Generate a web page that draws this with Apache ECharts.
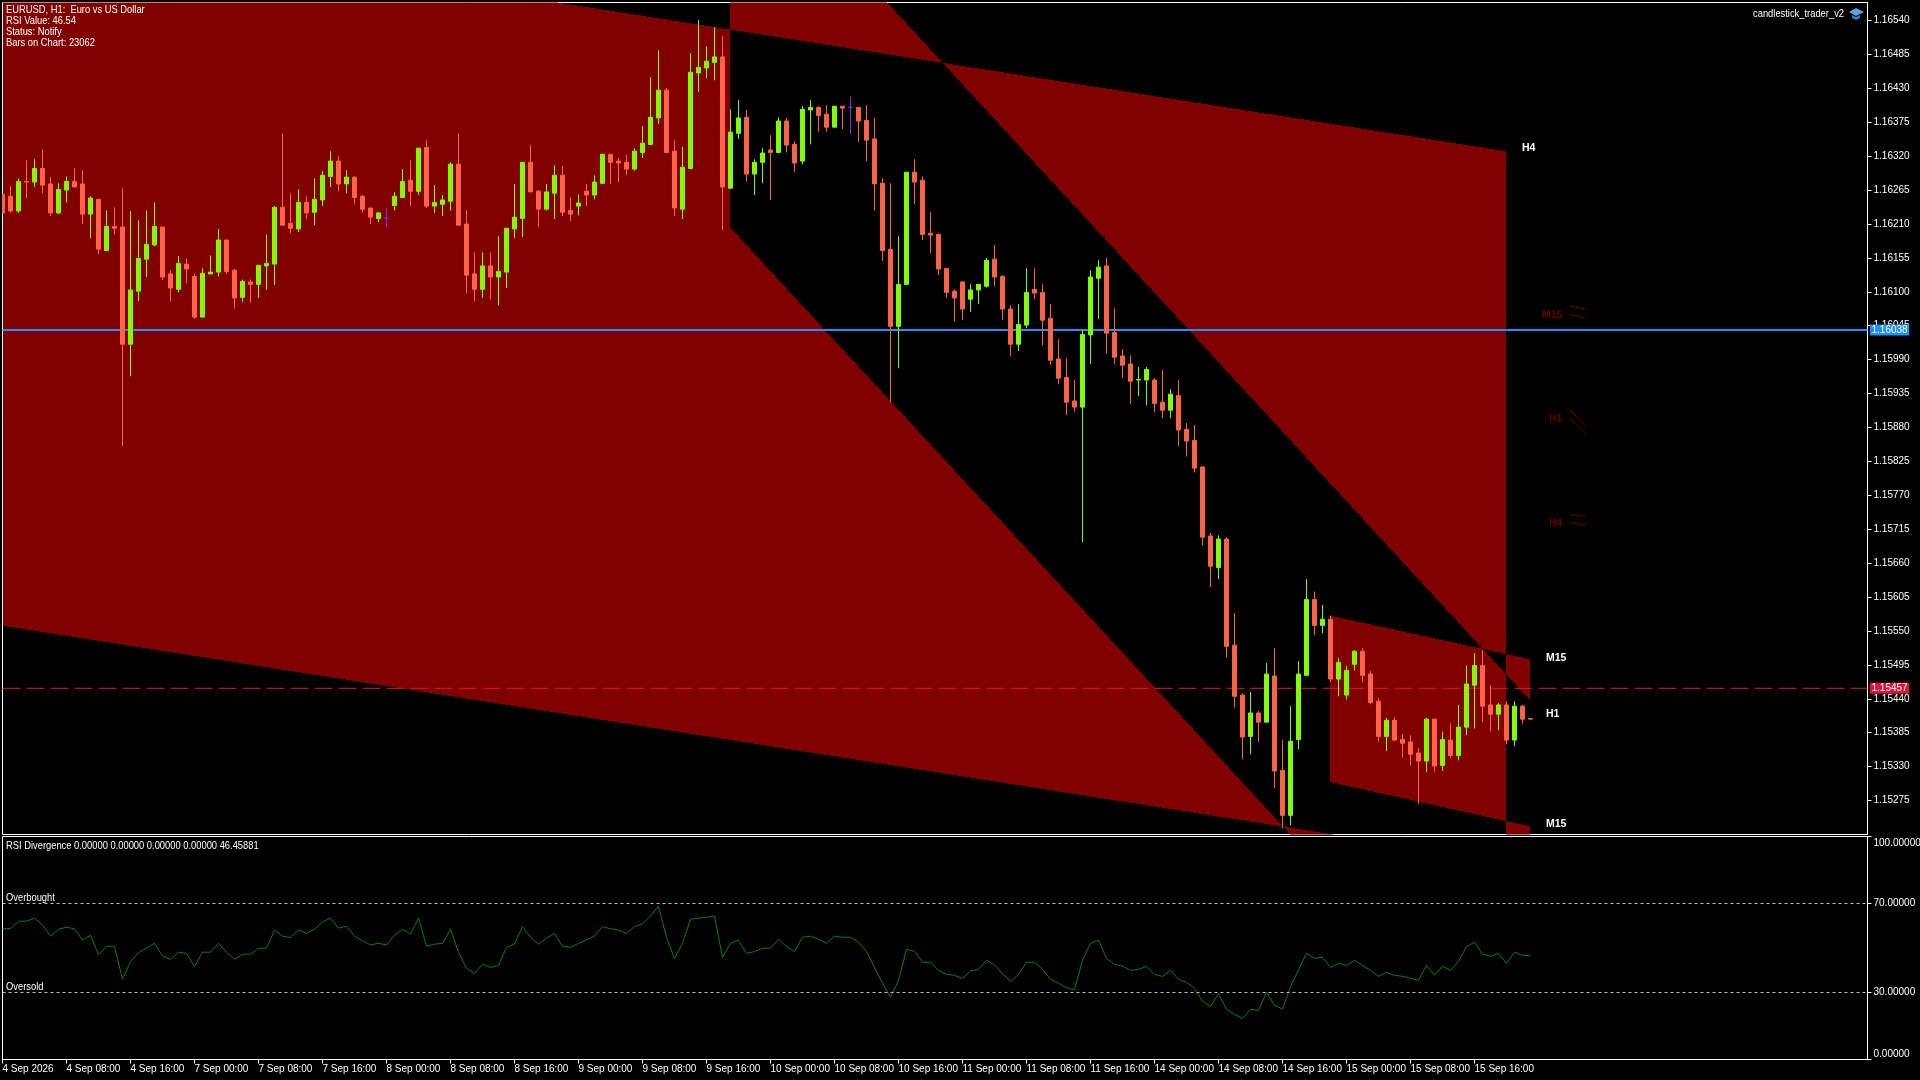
<!DOCTYPE html>
<html>
<head>
<meta charset="utf-8">
<title>EURUSD H1</title>
<script src="https://cdn.jsdelivr.net/npm/echarts@6/dist/echarts.min.js"></script>
<style>
html, body { margin: 0; padding: 0; background: #000; }
#chart { width: 1920px; height: 1080px; }
</style>
</head>
<body>
<div id="chart"></div>
<script>
var opens = [
1.16258,1.16255,1.16231,1.16279,1.16278,1.16300,1.16275,1.16228,1.16265,1.16279,
1.16275,1.16226,1.16250,1.16167,1.16206,1.16205,1.16015,1.16101,1.16153,1.16176,
1.16205,1.16129,1.16104,1.16145,1.16125,1.16059,1.16129,1.16132,1.16184,1.16135,
1.16091,1.16116,1.16112,1.16142,1.16145,1.16237,1.16211,1.16202,1.16245,1.16229,
1.16249,1.16287,1.16312,1.16275,1.16286,1.16255,1.16236,1.16219,1.16220,1.16240,
1.16253,1.16281,1.16263,1.16334,1.16239,1.16242,1.16247,1.16307,1.16210,1.16129,
1.16104,1.16142,1.16124,1.16132,1.16202,1.16219,1.16310,1.16263,1.16234,1.16260,
1.16289,1.16232,1.16239,1.16263,1.16257,1.16276,1.16323,1.16312,1.16310,1.16299,
1.16326,1.16339,1.16382,1.16427,1.16328,1.16234,1.16300,1.16455,1.16463,1.16472,
1.16481,1.16268,1.16357,1.16383,1.16291,1.16310,1.16330,1.16326,1.16377,1.16339,
1.16312,1.16395,1.16399,1.16388,1.16367,1.16401,1.16399,1.16399,1.16378,1.16348,
1.16276,1.16169,1.16044,1.16112,1.16294,1.16281,1.16195,1.16193,1.16138,1.16101,
1.16116,1.16088,1.16103,1.16109,1.16153,1.16125,1.16072,1.16015,1.16046,1.16104,
1.16099,1.16057,1.15991,1.15961,1.15923,1.15913,1.16030,1.16122,1.16142,1.16034,
1.15996,1.15983,1.15957,1.15957,1.15957,1.15921,1.15908,1.15932,1.15877,1.15859,
1.15816,1.15704,1.15653,1.15699,1.15527,1.15446,1.15379,1.15417,1.15402,1.15477,
1.15324,1.15251,1.15374,1.15478,1.15601,1.15559,1.15569,1.15472,1.15446,1.15496,
1.15517,1.15480,1.15436,1.15379,1.15405,1.15374,1.15370,1.15352,1.15339,1.15407,
1.15332,1.15373,1.15348,1.15394,1.15462,1.15494,1.15430,1.15415,1.15430,1.15373,
1.15428,1.15408
];
var closes = [
1.16228,1.16231,1.16279,1.16278,1.16300,1.16273,1.16228,1.16266,1.16279,1.16270,
1.16226,1.16252,1.16169,1.16206,1.16203,1.16015,1.16103,1.16154,1.16177,1.16206,
1.16124,1.16106,1.16146,1.16137,1.16059,1.16130,1.16132,1.16184,1.16133,1.16090,
1.16117,1.16112,1.16143,1.16146,1.16237,1.16208,1.16203,1.16245,1.16228,1.16250,
1.16289,1.16312,1.16275,1.16286,1.16253,1.16234,1.16221,1.16228,1.16220,1.16255,
1.16279,1.16263,1.16333,1.16239,1.16245,1.16249,1.16307,1.16208,1.16127,1.16104,
1.16142,1.16124,1.16133,1.16203,1.16221,1.16310,1.16262,1.16234,1.16262,1.16289,
1.16229,1.16226,1.16244,1.16257,1.16278,1.16323,1.16310,1.16309,1.16299,1.16328,
1.16341,1.16383,1.16427,1.16326,1.16236,1.16302,1.16456,1.16464,1.16474,1.16481,
1.16270,1.16359,1.16382,1.16291,1.16310,1.16325,1.16326,1.16377,1.16338,1.16309,
1.16396,1.16399,1.16386,1.16367,1.16401,1.16398,1.16399,1.16377,1.16346,1.16275,
1.16167,1.16044,1.16112,1.16294,1.16278,1.16193,1.16192,1.16137,1.16099,1.16090,
1.16072,1.16103,1.16112,1.16151,1.16124,1.16072,1.16015,1.16047,1.16099,1.16098,
1.16054,1.15989,1.15960,1.15921,1.15913,1.16031,1.16124,1.16140,1.16033,1.15994,
1.15981,1.15955,1.15958,1.15974,1.15919,1.15908,1.15934,1.15876,1.15858,1.15814,
1.15702,1.15655,1.15699,1.15525,1.15444,1.15378,1.15417,1.15402,1.15480,1.15323,
1.15251,1.15371,1.15480,1.15601,1.15559,1.15569,1.15472,1.15499,1.15486,1.15517,
1.15478,1.15434,1.15379,1.15405,1.15373,1.15368,1.15350,1.15339,1.15407,1.15331,
1.15374,1.15348,1.15394,1.15464,1.15494,1.15428,1.15415,1.15430,1.15373,1.15428,
1.15407,1.15407
];
var lows = [
1.16228,1.16228,1.16228,1.16252,1.16270,1.16260,1.16223,1.16226,1.16245,1.16270,
1.16210,1.16187,1.16161,1.16166,1.16193,1.15850,1.15963,1.16085,1.16124,1.16174,
1.16119,1.16085,1.16099,1.16114,1.16056,1.16059,1.16129,1.16125,1.16129,1.16073,
1.16083,1.16082,1.16090,1.16103,1.16111,1.16208,1.16195,1.16197,1.16218,1.16208,
1.16239,1.16270,1.16263,1.16260,1.16242,1.16228,1.16210,1.16213,1.16205,1.16232,
1.16253,1.16239,1.16257,1.16236,1.16228,1.16223,1.16232,1.16208,1.16098,1.16085,
1.16090,1.16088,1.16078,1.16106,1.16187,1.16189,1.16262,1.16205,1.16232,1.16218,
1.16223,1.16215,1.16224,1.16239,1.16250,1.16276,1.16275,1.16278,1.16289,1.16296,
1.16317,1.16339,1.16372,1.16325,1.16223,1.16218,1.16299,1.16424,1.16446,1.16443,
1.16200,1.16268,1.16348,1.16279,1.16257,1.16276,1.16249,1.16326,1.16326,1.16294,
1.16307,1.16339,1.16360,1.16360,1.16367,1.16364,1.16356,1.16343,1.16312,1.16232,
1.16150,1.15921,1.15976,1.16111,1.16242,1.16184,1.16163,1.16127,1.16090,1.16052,
1.16054,1.16067,1.16080,1.16107,1.16109,1.16054,1.15996,1.16004,1.16041,1.16088,
1.16013,1.15981,1.15950,1.15900,1.15906,1.15694,1.15983,1.16056,1.16000,1.15983,
1.15960,1.15918,1.15931,1.15916,1.15905,1.15895,1.15895,1.15850,1.15833,1.15807,
1.15689,1.15621,1.15634,1.15507,1.15426,1.15342,1.15350,1.15370,1.15402,1.15295,
1.15230,1.15235,1.15358,1.15478,1.15543,1.15546,1.15467,1.15444,1.15439,1.15486,
1.15467,1.15431,1.15371,1.15355,1.15371,1.15345,1.15332,1.15269,1.15321,1.15321,
1.15323,1.15344,1.15340,1.15381,1.15392,1.15402,1.15387,1.15389,1.15366,1.15363,
1.15400,1.15407
];
var highs = [
1.16258,1.16271,1.16284,1.16313,1.16315,1.16331,1.16286,1.16276,1.16287,1.16300,
1.16297,1.16255,1.16250,1.16232,1.16237,1.16268,1.16231,1.16216,1.16232,1.16245,
1.16205,1.16135,1.16158,1.16154,1.16129,1.16138,1.16159,1.16202,1.16185,1.16137,
1.16120,1.16120,1.16143,1.16193,1.16239,1.16357,1.16260,1.16266,1.16255,1.16284,
1.16296,1.16328,1.16320,1.16297,1.16287,1.16257,1.16236,1.16228,1.16236,1.16262,
1.16299,1.16313,1.16333,1.16346,1.16273,1.16257,1.16310,1.16357,1.16232,1.16164,
1.16164,1.16164,1.16190,1.16203,1.16275,1.16310,1.16338,1.16265,1.16275,1.16305,
1.16304,1.16253,1.16258,1.16275,1.16289,1.16323,1.16323,1.16317,1.16322,1.16333,
1.16369,1.16448,1.16492,1.16431,1.16346,1.16335,1.16487,1.16541,1.16498,1.16529,
1.16515,1.16396,1.16411,1.16395,1.16315,1.16333,1.16354,1.16383,1.16382,1.16344,
1.16401,1.16411,1.16401,1.16403,1.16401,1.16401,1.16417,1.16399,1.16403,1.16382,
1.16284,1.16276,1.16190,1.16294,1.16315,1.16287,1.16229,1.16195,1.16138,1.16104,
1.16117,1.16112,1.16112,1.16155,1.16176,1.16127,1.16078,1.16080,1.16138,1.16138,
1.16112,1.16080,1.16023,1.15992,1.15957,1.16038,1.16135,1.16151,1.16155,1.16073,
1.16007,1.15997,1.15978,1.15978,1.15960,1.15973,1.15942,1.15957,1.15887,1.15884,
1.15817,1.15709,1.15705,1.15702,1.15579,1.15449,1.15451,1.15420,1.15498,1.15522,
1.15373,1.15428,1.15501,1.15634,1.15614,1.15592,1.15575,1.15506,1.15493,1.15519,
1.15522,1.15485,1.15441,1.15409,1.15410,1.15383,1.15381,1.15360,1.15409,1.15407,
1.15387,1.15400,1.15430,1.15494,1.15514,1.15519,1.15462,1.15433,1.15436,1.15436,
1.15430,1.15408
];
var rsi = [
58.7,58.7,62.0,62.0,63.4,60.4,55.3,58.4,59.3,58.6,
53.6,55.7,47.0,50.8,50.8,36.0,43.9,47.9,50.0,52.1,
46.4,44.9,48.1,47.6,41.6,48.1,48.1,52.1,48.1,44.9,
47.2,47.2,49.9,49.9,58.0,55.3,54.7,58.1,56.6,58.4,
61.6,63.4,58.9,59.8,55.4,53.2,51.4,52.1,51.4,55.7,
58.4,56.2,63.5,50.8,51.7,52.1,58.4,48.1,40.9,38.6,
42.7,41.3,42.2,50.3,51.8,59.6,54.8,51.7,54.4,56.6,
50.8,50.3,52.1,53.6,55.4,59.6,58.6,58.1,56.5,59.6,
60.8,64.4,68.8,54.8,45.2,52.1,62.9,63.4,63.8,64.3,
45.8,52.1,53.5,47.6,48.4,49.9,49.9,53.9,50.6,48.5,
54.8,55.3,53.9,52.1,55.3,54.8,54.8,52.6,48.5,41.3,
34.2,27.9,35.4,49.4,48.5,43.6,43.6,40.0,38.2,37.8,
36.3,39.7,40.4,44.5,42.4,38.6,34.9,38.2,43.6,43.6,
40.4,36.0,34.2,32.1,31.3,44.5,52.1,53.5,45.4,42.7,
41.9,40.0,40.4,41.8,38.2,37.2,40.0,36.0,34.6,31.9,
26.1,23.8,29.5,22.5,20.2,18.4,22.5,22.0,30.1,24.4,
22.6,32.7,40.1,47.6,45.4,45.8,41.3,43.1,42.2,44.5,
42.2,40.0,37.3,39.1,37.8,37.3,36.4,35.5,42.2,37.8,
41.8,40.0,44.0,50.6,52.6,47.2,46.3,47.6,43.1,48.1,
46.7,46.5
];

// time labels, one every 8 bars
var timeLabels = ['4 Sep 2026','4 Sep 08:00','4 Sep 16:00','7 Sep 00:00','7 Sep 08:00','7 Sep 16:00',
	'8 Sep 00:00','8 Sep 08:00','8 Sep 16:00','9 Sep 00:00','9 Sep 08:00','9 Sep 16:00',
	'10 Sep 00:00','10 Sep 08:00','10 Sep 16:00','11 Sep 00:00','11 Sep 08:00','11 Sep 16:00',
	'14 Sep 00:00','14 Sep 08:00','14 Sep 16:00','15 Sep 00:00','15 Sep 08:00','15 Sep 16:00'];
var timeTicks = [0,8,16,24,32,40,48,56,64,72,80,88,96,104,112,120,128,136,144,152,160,168,176,184];
var priceTicks = [1.16540,1.16485,1.16430,1.16375,1.16320,1.16265,1.16210,1.16155,1.16100,1.16045,
	1.15990,1.15935,1.15880,1.15825,1.15770,1.15715,1.15660,1.15605,1.15550,1.15495,
	1.15440,1.15385,1.15330,1.15275];
var rsiTicks = [0,30,70,100];
var bidPrice = 1.15457;
var askPrice = 1.16038;
var overbought = 70;
var oversold = 30;
var lastBar = 233.125;

// channels as [bar, price] corners: top left, top right, bottom right, bottom left
var channelH4 = [[-10,1.16730],[188,1.16327],[188,1.15175],[-10,1.15578]];
var channelH1 = [[91,1.16844],[191,1.15436],[191,1.14797],[91,1.16203]];
var channelM15 = [[166,1.15574],[191,1.15503],[191,1.15232],[166,1.15304]];
var channels = [channelH4, channelH1, channelM15];

var headerLines = ['EURUSD, H1:  Euro vs US Dollar','RSI Value: 46.54','Status: Notify','Bars on Chart: 23062'];
var rsiHeader = 'RSI Divergence 0.00000 0.00000 0.00000 0.00000 46.45881';

var chartFont = '"Liberation Sans", sans-serif';
var smallFont = '11px ' + chartFont;
var tagFont = 'bold 10.5px ' + chartFont;
var axisSize = 10;

var bull = '#7FFF00';
var bear = '#FF6347';

var candles = opens.map(function(o, i) {
	return [i, o, closes[i], lows[i], highs[i]];
});

function text(x, y, str, fill, font, align, squeeze) {
	return {
		type: 'text', x: x, y: y, z: 100, silent: true, scaleX: squeeze || 1,
		style: { text: str, fill: fill, font: font, align: align || 'left', verticalAlign: 'middle' }
	};
}
function seg(x1, y1, x2, y2) {
	return {
		type: 'line', z: 100, silent: true,
		shape: { x1: x1, y1: y1, x2: x2, y2: y2 },
		style: { stroke: '#6a0000', lineWidth: 1 }
	};
}

var graphics = [
	{ type: 'rect', z: 99, silent: true, shape: { x: 0, y: 0, width: 2, height: 1080 }, style: { fill: '#000' } }
];
headerLines.forEach(function(s, i) {
	graphics.push(text(6, 9.7 + i * 11, s, '#fff', smallFont, 'left', 0.85));
});
graphics.push(text(6, 845.7, rsiHeader, '#fff', smallFont, 'left', 0.85));
graphics.push(text(6, 897.7, 'Overbought', '#fff', smallFont, 'left', 0.85));
graphics.push(text(6, 986.7, 'Oversold', '#fff', smallFont, 'left', 0.85));
graphics.push(text(1844, 13.7, 'candlestick_trader_v2', '#fff', smallFont, 'right', 0.85));
graphics.push(
	{ type: 'polygon', z: 100, silent: true, shape: { points: [[1856,8],[1864,12],[1856,16],[1849,12]] }, style: { fill: '#5ba4dc' } },
	{ type: 'polygon', z: 100, silent: true, shape: { points: [[1852,15],[1856,17],[1860,15],[1860,18],[1856,20],[1852,18]] }, style: { fill: '#2f7fc0' } }
);
// timeframe tags next to the channels
graphics.push(text(1522, 148, 'H4', '#fff', tagFont));
graphics.push(text(1546, 658, 'M15', '#fff', tagFont));
graphics.push(text(1546, 714, 'H1', '#fff', tagFont));
graphics.push(text(1546, 824, 'M15', '#fff', tagFont));
graphics.push(text(1542, 315, 'M15', '#600000', tagFont));
graphics.push(text(1549, 419, 'H1', '#600000', tagFont));
graphics.push(text(1549, 523, 'H4', '#600000', tagFont));
graphics.push(seg(1570, 306, 1586, 309.5), seg(1570, 314.5, 1586, 318.5));
graphics.push(seg(1570, 410, 1586, 426.5), seg(1570, 418.5, 1586, 434.5));
graphics.push(seg(1570, 514.5, 1586, 516.5), seg(1570, 522.5, 1586, 525.5));

// terminal fills overlapping channels with xor, so walk the plot one pixel column at a time
function renderChannels(params, api) {
	var polys = channels.map(function(ch) {
		return ch.map(function(p) { return api.coord(p); });
	});
	var children = [];
	var left = Math.ceil(params.coordSys.x);
	var right = Math.floor(params.coordSys.x + params.coordSys.width);
	for (var col = left; col < right; col++) {
		var cx = col + 0.5;
		var ys = [];
		polys.forEach(function(p) {
			if (cx < p[0][0] || cx >= p[1][0]) return;
			var t = (cx - p[0][0]) / (p[1][0] - p[0][0]);
			ys.push(Math.floor(p[0][1] + (p[1][1] - p[0][1]) * t));
			ys.push(Math.floor(p[3][1] + (p[2][1] - p[3][1]) * t));
		});
		ys.sort(function(a, b) { return a - b; });
		for (var k = 0; k + 1 < ys.length; k += 2) {
			if (ys[k + 1] > ys[k]) {
				children.push({
					type: 'rect',
					shape: { x: col, y: ys[k], width: 1, height: ys[k + 1] - ys[k] },
					style: { fill: '#800000' }
				});
			}
		}
	}
	return { type: 'group', children: children };
}

var chart = echarts.init(document.getElementById('chart'));
var option = {
	animation: false,
	backgroundColor: '#000',
	graphic: graphics,
	grid: [
		{ left: 2.5, top: 2.5, width: 1865, height: 832, outerBoundsMode: 'none', show: true, borderColor: '#fff', borderWidth: 1, backgroundColor: 'transparent' },
		{ left: 2.5, top: 836.5, width: 1865, height: 223, outerBoundsMode: 'none', show: true, borderColor: '#fff', borderWidth: 1, backgroundColor: 'transparent' }
	],
	xAxis: [
		{ type: 'value', gridIndex: 0, min: 0, max: lastBar, show: false },
		{
			type: 'value', gridIndex: 1, min: 0, max: lastBar,
			splitLine: { show: false },
			axisLine: { show: true, onZero: false, lineStyle: { color: '#fff' } },
			axisTick: { show: true, length: 4, customValues: timeTicks, lineStyle: { color: '#fff' } },
			axisLabel: {
				customValues: timeTicks, color: '#fff', fontFamily: chartFont, fontSize: axisSize,
				align: 'left', margin: 5, hideOverlap: false,
				formatter: function(v) { return timeLabels[v / 8]; }
			}
		}
	],
	yAxis: [
		{
			type: 'value', gridIndex: 0, position: 'right', scale: true,
			min: 1.152199, max: 1.165692,
			splitLine: { show: false },
			axisLine: { show: true, onZero: false, lineStyle: { color: '#fff' } },
			axisTick: { show: true, length: 4, customValues: priceTicks, lineStyle: { color: '#fff' } },
			axisLabel: {
				customValues: priceTicks, color: '#fff', fontFamily: chartFont, fontSize: axisSize, margin: 6,
				padding: [2, 0, 0, 0],
				formatter: function(v) { return v.toFixed(5); }
			}
		},
		{
			type: 'value', gridIndex: 1, position: 'right', min: 0, max: 100,
			splitLine: { show: false },
			axisLine: { show: true, onZero: false, lineStyle: { color: '#fff' } },
			axisTick: { show: true, length: 4, customValues: rsiTicks, lineStyle: { color: '#fff' } },
			axisLabel: {
				customValues: rsiTicks, color: '#fff', fontFamily: chartFont, fontSize: axisSize, margin: 6,
				padding: [2, 0, 0, 0],
				verticalAlignMaxLabel: 'top', verticalAlignMinLabel: 'bottom',
				formatter: function(v) { return v.toFixed(5); }
			}
		}
	],
	series: [
		{
			type: 'custom', xAxisIndex: 0, yAxisIndex: 0, z: 1, clip: true, silent: true,
			data: [[0]],
			encode: { x: 0 },
			renderItem: renderChannels
		},
		{
			type: 'line', xAxisIndex: 0, yAxisIndex: 0, z: 2, silent: true, symbol: 'none',
			data: [[0, askPrice], [lastBar, askPrice]],
			lineStyle: { color: '#1E90FF', width: 2 },
			endLabel: { show: true, distance: 2.5, color: '#fff', backgroundColor: '#1E90FF', padding: [0, 1.5],
				lineHeight: 11, fontFamily: chartFont, fontSize: axisSize, formatter: askPrice.toFixed(5) }
		},
		{
			type: 'line', xAxisIndex: 0, yAxisIndex: 0, z: 2, silent: true, symbol: 'none',
			data: [[0, bidPrice], [lastBar, bidPrice]],
			lineStyle: { color: '#DC143C', width: 1, type: [18, 6] },
			endLabel: { show: true, distance: 2.5, color: '#fff', backgroundColor: '#DC143C', padding: [0, 1.5],
				lineHeight: 11, fontFamily: chartFont, fontSize: axisSize, formatter: bidPrice.toFixed(5) }
		},
		{
			type: 'candlestick', xAxisIndex: 0, yAxisIndex: 0, z: 3, silent: true,
			barWidth: 4,
			encode: { x: 0, y: [1, 2, 3, 4] },
			data: candles,
			itemStyle: {
				color: bull, color0: bear, borderColor: bull, borderColor0: bear,
				borderColorDoji: '#8A2BE2', borderWidth: 1
			}
		},
		{
			type: 'line', xAxisIndex: 1, yAxisIndex: 1, z: 3, silent: true,
			symbol: 'none',
			data: rsi.map(function(v, i) { return [i, v]; }),
			lineStyle: { color: '#008000', width: 1 },
			markLine: {
				silent: true, symbol: 'none', animation: false,
				lineStyle: { color: '#C0C0C0', width: 1, type: [3, 3] },
				label: { show: false },
				data: [{ yAxis: overbought }, { yAxis: oversold }]
			}
		}
	]
};
chart.setOption(option);
</script>
</body>
</html>
